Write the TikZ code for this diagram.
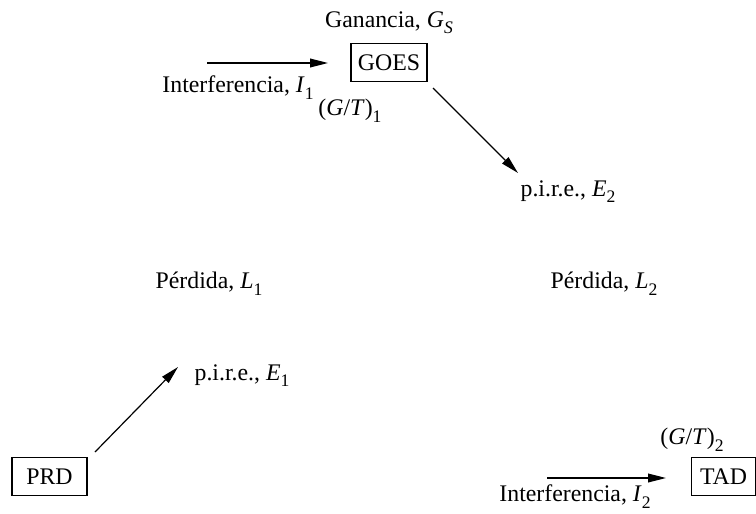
\documentclass[tikz,border=0pt]{standalone}
\usepackage{fontspec}
\setmainfont{Liberation Serif}
\usetikzlibrary{arrows.meta}

% lowered subscript in the style of the drawing
\newcommand{\lowidx}[1]{\smash{\raisebox{-3.3pt}{\fontsize{8.8}{9}\selectfont#1}}}

\tikzset{
  station/.style={draw, line width=0.6pt, minimum height=19pt, inner sep=0pt},
  flow/.style={-{Triangle[length=9pt,width=4.4pt]}, line width=0.6pt},
  lbl/.style={inner sep=0pt}
}

\begin{document}
\begin{tikzpicture}[x=0.5pt, y=-0.5pt, font=\fontsize{11.9}{14}\selectfont]
    \useasboundingbox (0,0) rectangle (756,514);

    % Define the stations
    \node[station, minimum width=38pt] (goes) at (389,62.5) {GOES};
    \node[station, minimum width=37.5pt] (prd) at (49.5,476.5) {PRD};
    \node[station, minimum width=32pt] (tad) at (723.5,476.5) {TAD};

    % Define the arrow ends
    \coordinate (i1a) at (207,63);
    \coordinate (i1b) at (328,63);
    \coordinate (e2a) at (433,88);
    \coordinate (e2b) at (518,173);
    \coordinate (e1a) at (95,452);
    \coordinate (e1b) at (178,367);
    \coordinate (i2a) at (547,478);
    \coordinate (i2b) at (666,478);

    % Draw the arrows
    \draw[flow] (i1a) -- (i1b);
    \draw[flow] (e2a) -- (e2b);
    \draw[flow] (e1a) -- (e1b);
    \draw[flow] (i2a) -- (i2b);

    % Place the labels
    \node[lbl] (gs) at (389,21) {Ganancia, \textit{G}\lowidx{\textit{S}}};
    \node[lbl] (i1) at (238,86) {Interferencia, \textit{I}\lowidx{1}};
    \node[lbl] (gt1) at (350,110) {(\textit{G}/\textit{T})\lowidx{1}};
    \node[lbl] (e2) at (568,191) {p.i.r.e., \textit{E}\lowidx{2}};
    \node[lbl] (l1) at (209,282) {Pérdida, \textit{L}\lowidx{1}};
    \node[lbl] (l2) at (604,282) {Pérdida, \textit{L}\lowidx{2}};
    \node[lbl] (e1) at (242,375) {p.i.r.e., \textit{E}\lowidx{1}};
    \node[lbl] (gt2) at (692,439) {(\textit{G}/\textit{T})\lowidx{2}};
    \node[lbl] (i2) at (575,495) {Interferencia, \textit{I}\lowidx{2}};

\end{tikzpicture}
\end{document}
